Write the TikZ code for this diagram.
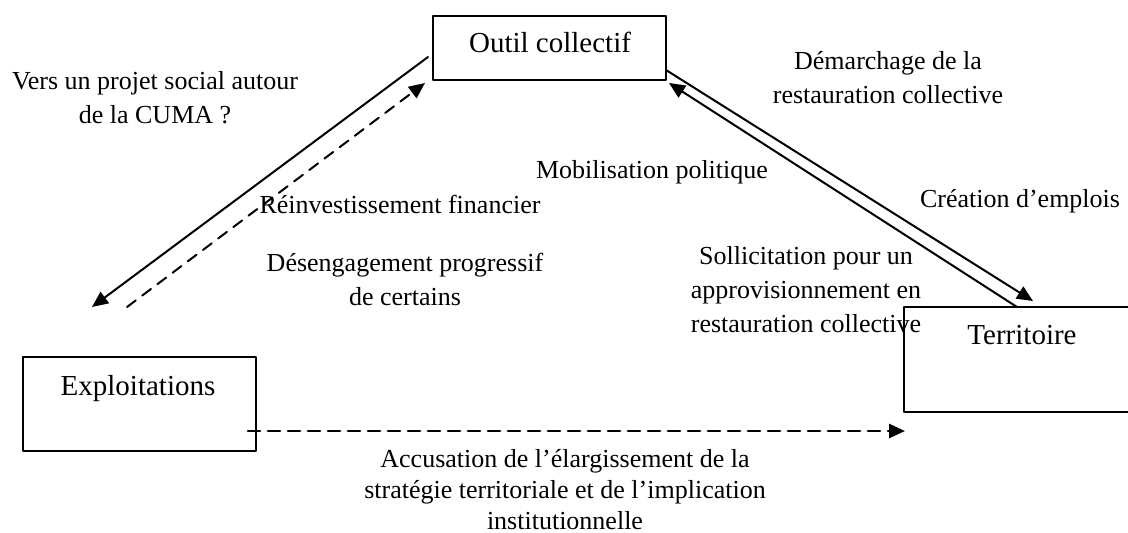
\documentclass[tikz,border=0pt]{standalone}
\usepackage{fontspec}
\setmainfont{Liberation Serif}
\usetikzlibrary{arrows.meta}
\tikzset{
  boite/.style={draw,line width=1pt,inner sep=0pt},
  boitetexte/.style={font=\fontsize{14.5}{17}\selectfont,anchor=base,inner sep=0pt},
  etiquette/.style={font=\fontsize{13}{17}\selectfont,align=center,anchor=base,inner sep=0pt},
  lien/.style={->,line width=1pt},
  lienpointille/.style={->,line width=1pt,dash pattern=on 5.5pt off 4pt}
}
\begin{document}
\begin{tikzpicture}[line cap=round,line join=round,>={Triangle[length=8pt,width=7pt]},x=0.5pt,y=-0.5pt]
\clip (0,0) rectangle (1128,532);
% boites
\node[boite,minimum width=116.5pt,minimum height=32pt] (outil) at (549.5,48) {};
\node[boite,minimum width=116.5pt,minimum height=47pt] (exploit) at (139.5,404) {};
\node[boite,minimum width=118pt,minimum height=52.5pt] (territoire) at (1022,359.5) {};
\node[boitetexte] (outilnom) at (550,52) {Outil collectif};
\node[boitetexte] (exploitnom) at (138,395) {Exploitations};
\node[boitetexte] (territoirenom) at (1022,344) {Territoire};
% extremites des fleches
\coordinate (oe1) at (428,57);
\coordinate (oe2) at (92,307);
\coordinate (eo1) at (127,307);
\coordinate (eo2) at (425,83);
\coordinate (ot1) at (666,70);
\coordinate (ot2) at (1033,301);
\coordinate (to1) at (1017,307);
\coordinate (to2) at (669,83);
\coordinate (et1) at (248,431);
\coordinate (et2) at (905,431);
\draw[lien] (oe1) -- (oe2);
\draw[lienpointille] (eo1) -- (eo2);
\draw[lien] (ot1) -- (ot2);
\draw[lien] (to1) -- (to2);
\draw[lienpointille,line width=1.4pt,dash pattern=on 6pt off 4pt] (et1) -- (et2);
% etiquettes (base = ligne du bas)
\node[etiquette] (projet) at (155,123) {Vers un projet social autour\\de la CUMA ?};
\node[etiquette] (reinvest) at (400,213) {Réinvestissement financier};
\node[etiquette] (desengag) at (405,305) {Désengagement progressif\\de certains};
\node[etiquette] (mobil) at (652,178) {Mobilisation politique};
\node[etiquette] (demarch) at (888,103) {Démarchage de la\\restauration collective};
\node[etiquette] (emplois) at (1020,207) {Création d’emplois};
\node[etiquette] (sollicit) at (806,332) {Sollicitation pour un\\approvisionnement en\\restauration collective};
\node[etiquette,font=\fontsize{13}{15.5}\selectfont] (accus) at (565,529) {Accusation de l’élargissement de la\\stratégie territoriale et de l’implication\\institutionnelle};
\end{tikzpicture}
\end{document}
